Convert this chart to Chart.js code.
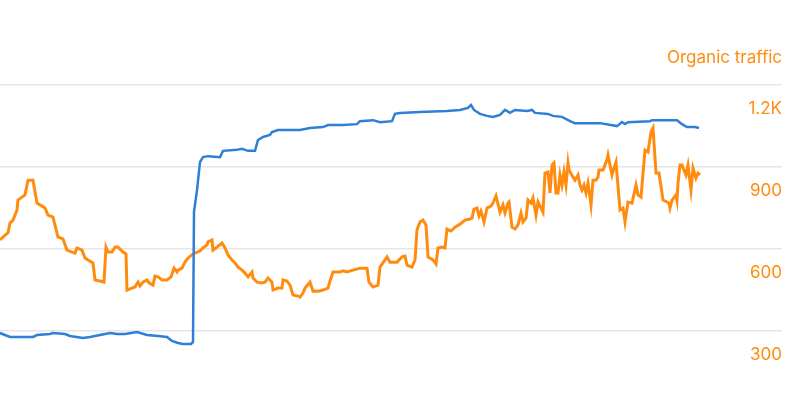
<!DOCTYPE html>
<html>
<head>
<meta charset="utf-8">
<script src="https://cdn.jsdelivr.net/npm/chart.js@4"></script>
<style>
  html, body { margin: 0; padding: 0; background: #ffffff; }
  #wrap { width: 800px; height: 400px; position: relative; }
</style>
</head>
<body>
<div id="wrap"><canvas id="c"></canvas></div>
<script>
// Organic traffic (orange, right axis)
const trafficDays = [0,2.5,4,5,6.5,8.5,9,11,12.5,14,16.5,18.5,21,22.5,24,26.5,29,31.5,33.5,36,37.5,38.5,41,42.5,44,46.5,47.5,50,52,53,54,56,57.5,59,61.5,63,63.5,66,67.5,69,70,71.5,73.5,74.5,76.5,77.5,79,81,83.5,85.5,87,88.5,89,91,92.5,94,96.5,100,101.5,103.5,104,106,106.5,108.5,111,112.5,114,116,117.5,119,121,122.5,124,126,126.5,128.5,131,132.5,134,136,136.5,139,141,141.5,143.5,145,146.5,149,150,151.5,152.5,155,156.5,159,161.5,164,165,166.5,170,171.5,173.5,176.5,180,183.5,184.5,186.5,189,190,192.5,193.5,195,198.5,201,202.5,203.5,206,207.5,208.5,210,211.5,213,214,216.5,218,219,221,222.5,223.5,225.5,227.5,230,232.5,235,236,237,238.5,239.5,240.5,242,243.5,245.5,246.5,248,249,250,251.5,252.5,254,254.5,256,257.5,259,260.5,261.5,263,264,265.5,266.5,268,269,270.5,271.5,272.5,274,275,276,277,278,279,280,281,282,283,284,284.5,286.5,287.5,289,290,291,292,293,294,295.5,296.5,298,299,299.5,301.5,303.5,304,306,307,308,310,311.5,312.5,314,316,318,319,320.5,322.5,324,325.5,326.5,328,329.5,331.5,333.5,334.5,335,336,338,338.5,339,340,341,343,344,345.5,346.5,348,349,350];
const trafficValues = [633,651,659,695,706,743,779,790,798,852,852,768,757,750,724,717,644,637,596,589,585,604,596,567,560,549,487,483,479,607,589,589,607,607,589,582,450,457,461,479,465,479,487,476,468,501,498,487,487,498,530,516,523,530,552,567,582,593,604,615,626,633,596,607,622,604,578,560,549,534,523,512,498,516,494,479,476,479,494,479,450,457,457,487,483,468,432,428,424,439,457,479,446,446,450,457,483,516,516,520,516,523,530,530,479,461,468,534,560,571,552,552,571,574,541,534,560,670,699,706,688,571,560,545,604,607,604,673,666,680,691,706,710,713,746,750,721,739,699,750,757,768,794,765,735,761,732,768,772,680,673,688,732,699,713,779,768,787,724,772,750,735,878,882,805,907,915,805,805,871,834,882,834,915,889,863,852,871,834,816,834,805,841,761,852,852,863,889,889,926,944,871,896,918,743,750,699,772,768,834,798,790,962,955,1028,1043,878,878,779,772,768,750,779,798,779,841,907,907,871,907,816,896,860,878,871,911,845];

// Organic keywords (blue, hidden axis)
const keywordDays = [0,5,16.5,18.5,25,26.5,32.5,35,41.5,45,50,55,58.5,62.5,68.5,73.5,79,83.5,86,89,91.5,95.5,96.5,97,98.5,100,101.5,104,110,111.5,118.5,121,124,127.5,129,131.5,135,136,139,150,155,161.5,164,171.5,178.5,180,186.5,190,196,197.5,200,210,223.5,230,234,235.5,237,240,243.5,246.5,250,252.5,255,257.5,263.5,266,267.5,274,276.5,281,285,287.5,300,308.5,311,312.5,314,325,326,338.5,341,343.5,347.5,349.5];
const keywordValues = [203,191,191,197,200,203,200,194,188,191,197,203,200,200,206,197,194,191,179,173,170,170,176,570,636,721,736,739,736,755,758,761,755,755,788,797,803,812,818,818,824,827,833,833,836,845,848,842,845,867,870,873,876,879,885,894,879,867,861,858,864,879,870,879,876,879,870,867,861,858,845,839,839,830,842,836,842,845,848,848,836,827,827,824];

// Right-axis ticks
const trafficTicks = [300, 600, 900, 1200];
const trafficTickLabels = ['300', '600', '900', '1.2K'];

const toPoints = (xs, ys) => xs.map((x, i) => ({ x: x, y: ys[i] }));

const ORANGE = '#ff8c0f';
const BLUE = '#2f7ed8';
const FONT = 'Inter, Roboto, sans-serif';

new Chart(document.getElementById('c'), {
  type: 'line',
  data: {
    datasets: [
      {
        label: 'Organic keywords',
        data: toPoints(keywordDays, keywordValues),
        yAxisID: 'yk',
        borderColor: BLUE,
        borderWidth: 2.5,
        pointRadius: 0,
        tension: 0,
        fill: false
      },
      {
        label: 'Organic traffic',
        data: toPoints(trafficDays, trafficValues),
        yAxisID: 'y',
        borderColor: ORANGE,
        borderWidth: 3,
        pointRadius: 0,
        tension: 0,
        fill: false
      }
    ]
  },
  options: {
    responsive: true,
    maintainAspectRatio: false,
    animation: false,
    layout: { padding: { left: 0, right: 18, top: 0, bottom: 0 } },
    plugins: {
      legend: { display: false },
      tooltip: { enabled: false },
      title: {
        display: true,
        text: 'Organic traffic',
        align: 'end',
        color: ORANGE,
        font: { family: FONT, size: 17, weight: 'normal', lineHeight: 1.2 },
        padding: { top: 48, bottom: 1.6 }
      }
    },
    scales: {
      x: {
        type: 'linear',
        min: 0,
        max: 391,
        display: false
      },
      yk: {
        type: 'linear',
        position: 'left',
        min: 31,
        max: 1000,
        display: false
      },
      y: {
        type: 'linear',
        position: 'right',
        min: 85,
        max: 1255,
        afterBuildTicks: (scale) => {
          scale.ticks = trafficTicks.map(v => ({ value: v }));
        },
        border: { display: false },
        grid: {
          color: '#e6e6e6',
          lineWidth: 1.5,
          drawTicks: false
        },
        ticks: {
          mirror: true,
          padding: 0,
          labelOffset: 24,
          color: ORANGE,
          font: { family: FONT, size: 17 },
          callback: (value) => {
            const i = trafficTicks.indexOf(value);
            return i >= 0 ? trafficTickLabels[i] : '';
          }
        }
      }
    }
  }
});
</script>
</body>
</html>
